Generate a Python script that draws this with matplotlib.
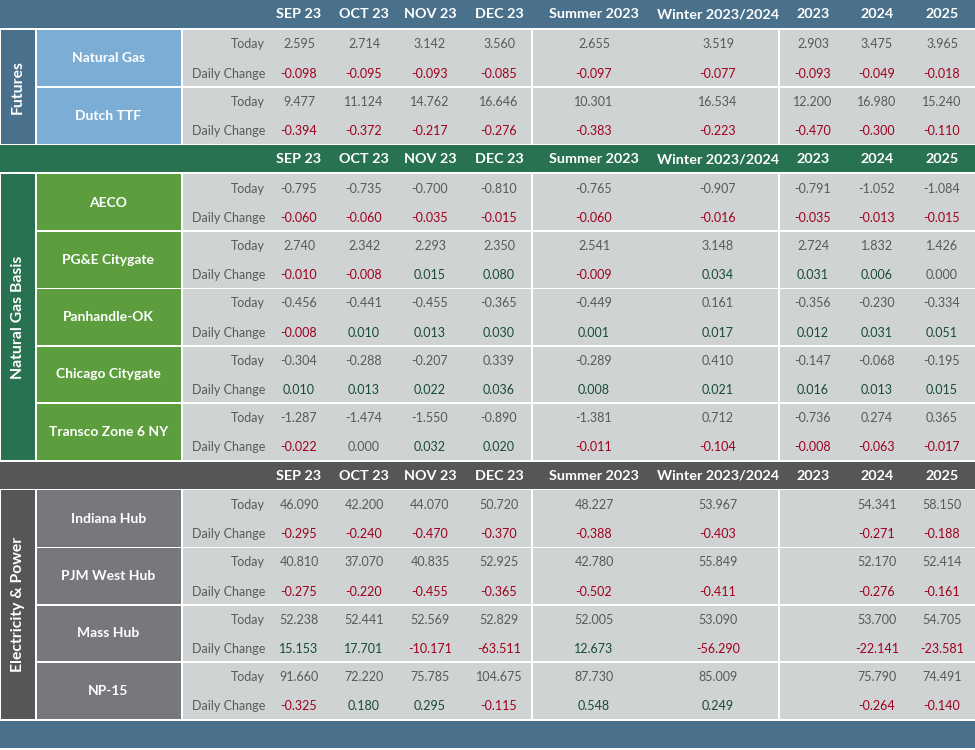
import matplotlib
matplotlib.use("Agg")
import matplotlib.pyplot as plt
from matplotlib.patches import Rectangle

plt.rcParams['font.family'] = ['Lato', 'DejaVu Sans']

columns = ["SEP 23", "OCT 23", "NOV 23", "DEC 23", "Summer 2023",
           "Winter 2023/2024", "2023", "2024", "2025"]

futures_names = ["Natural Gas", "Dutch TTF"]
futures_today = [
    [2.595, 2.714, 3.142, 3.560, 2.655, 3.519, 2.903, 3.475, 3.965],
    [9.477, 11.124, 14.762, 16.646, 10.301, 16.534, 12.200, 16.980, 15.240],
]
futures_change = [
    [-0.098, -0.095, -0.093, -0.085, -0.097, -0.077, -0.093, -0.049, -0.018],
    [-0.394, -0.372, -0.217, -0.276, -0.383, -0.223, -0.470, -0.300, -0.110],
]

basis_names = ["AECO", "PG&E Citygate", "Panhandle-OK", "Chicago Citygate",
               "Transco Zone 6 NY"]
basis_today = [
    [-0.795, -0.735, -0.700, -0.810, -0.765, -0.907, -0.791, -1.052, -1.084],
    [2.740, 2.342, 2.293, 2.350, 2.541, 3.148, 2.724, 1.832, 1.426],
    [-0.456, -0.441, -0.455, -0.365, -0.449, 0.161, -0.356, -0.230, -0.334],
    [-0.304, -0.288, -0.207, 0.339, -0.289, 0.410, -0.147, -0.068, -0.195],
    [-1.287, -1.474, -1.550, -0.890, -1.381, 0.712, -0.736, 0.274, 0.365],
]
basis_change = [
    [-0.060, -0.060, -0.035, -0.015, -0.060, -0.016, -0.035, -0.013, -0.015],
    [-0.010, -0.008, 0.015, 0.080, -0.009, 0.034, 0.031, 0.006, 0.000],
    [-0.008, 0.010, 0.013, 0.030, 0.001, 0.017, 0.012, 0.031, 0.051],
    [0.010, 0.013, 0.022, 0.036, 0.008, 0.021, 0.016, 0.013, 0.015],
    [-0.022, 0.000, 0.032, 0.020, -0.011, -0.104, -0.008, -0.063, -0.017],
]

power_names = ["Indiana Hub", "PJM West Hub", "Mass Hub", "NP-15"]
power_today = [
    [46.090, 42.200, 44.070, 50.720, 48.227, 53.967, None, 54.341, 58.150],
    [40.810, 37.070, 40.835, 52.925, 42.780, 55.849, None, 52.170, 52.414],
    [52.238, 52.441, 52.569, 52.829, 52.005, 53.090, None, 53.700, 54.705],
    [91.660, 72.220, 75.785, 104.675, 87.730, 85.009, None, 75.790, 74.491],
]
power_change = [
    [-0.295, -0.240, -0.470, -0.370, -0.388, -0.403, None, -0.271, -0.188],
    [-0.275, -0.220, -0.455, -0.365, -0.502, -0.411, None, -0.276, -0.161],
    [15.153, 17.701, -10.171, -63.511, 12.673, -56.290, None, -22.141, -23.581],
    [-0.325, 0.180, 0.295, -0.115, 0.548, 0.249, None, -0.264, -0.140],
]

group_labels = ["Futures", "Natural Gas Basis", "Electricity & Power"]
row_labels = ["Today", "Daily Change"]

# ---- styling / layout ----
W, H = 975, 750
col_x = [299, 364, 430, 499, 594, 718, 813, 877, 942]
label_right = 265
sep_x = [532, 779]

sections = [
    dict(header=(0, 27.5), blocks=(29.5, 144.3), names=futures_names,
         today=futures_today, change=futures_change,
         header_c="#4a718c", group_c="#4a718c", name_c="#7badd5"),
    dict(header=(145, 172.3), blocks=(174, 460.3), names=basis_names,
         today=basis_today, change=basis_change,
         header_c="#287252", group_c="#287252", name_c="#5c9e3e"),
    dict(header=(461.8, 489), blocks=(490.3, 719.3), names=power_names,
         today=power_today, change=power_change,
         header_c="#555658", group_c="#555658", name_c="#77787b"),
]
data_bg = "#d0d3d4"
txt_c = "#595959"
neg_c = "#a0001e"
pos_c = "#174a3a"

fig = plt.figure(figsize=(W / 100, H / 100), dpi=100)
ax = fig.add_axes([0, 0, 1, 1])
ax.set_xlim(0, W)
ax.set_ylim(H, 0)
ax.axis("off")
fig.patch.set_facecolor("white")


def rect(x0, y0, x1, y1, c):
    ax.add_patch(Rectangle((x0, y0), x1 - x0, y1 - y0, facecolor=c,
                           edgecolor="none", linewidth=0))


def fmt(v):
    return "" if v is None else f"{v:.3f}"


def val_color(v):
    if v is None:
        return txt_c
    if v < 0:
        return neg_c
    if v > 0:
        return pos_c
    return txt_c


for gi, s in enumerate(sections):
    h0, h1 = s["header"]
    rect(0, h0, W, h1, s["header_c"])
    hy = (h0 + h1) / 2
    for cx, name in zip(col_x, columns):
        ax.text(cx, hy + 0.5, name, color="white", fontsize=10.4,
                fontweight="bold", ha="center", va="center")

    b0, b1 = s["blocks"]
    n = len(s["names"])
    bh = (b1 - b0) / n
    # group column
    rect(1, b0, 35, b1, s["group_c"])
    ax.text(18, (b0 + b1) / 2, group_labels[gi], color="white", fontsize=11.3,
            fontweight="bold", rotation=90, ha="center", va="center")
    for i in range(n):
        y0 = b0 + i * bh + (0 if i == 0 else 0.8)
        y1 = b0 + (i + 1) * bh - (0 if i == n - 1 else 0.8)
        rect(36.5, y0, 181, y1, s["name_c"])
        rect(182.5, y0, sep_x[0] - 0.8, y1, data_bg)
        rect(sep_x[0] + 0.8, y0, sep_x[1] - 0.8, y1, data_bg)
        rect(sep_x[1] + 0.8, y0, W, y1, data_bg)
        yc = b0 + (i + 0.5) * bh
        ax.text(108.5, yc, s["names"][i], color="white", fontsize=10,
                fontweight="bold", ha="center", va="center")
        ty = b0 + (i + 0.26) * bh
        dy = b0 + (i + 0.77) * bh
        ax.text(label_right, ty, row_labels[0], color=txt_c, fontsize=9,
                ha="right", va="center")
        ax.text(label_right, dy, row_labels[1], color=txt_c, fontsize=9,
                ha="right", va="center")
        for j, cx in enumerate(col_x):
            tv = s["today"][i][j]
            cv = s["change"][i][j]
            ax.text(cx, ty, fmt(tv), color=txt_c, fontsize=9,
                    ha="center", va="center")
            ax.text(cx, dy, fmt(cv), color=val_color(cv), fontsize=9,
                    ha="center", va="center")

# bottom band
rect(0, 720.5, W, 748, "#4a718c")

fig.savefig("out.png", dpi=100, facecolor="white")
